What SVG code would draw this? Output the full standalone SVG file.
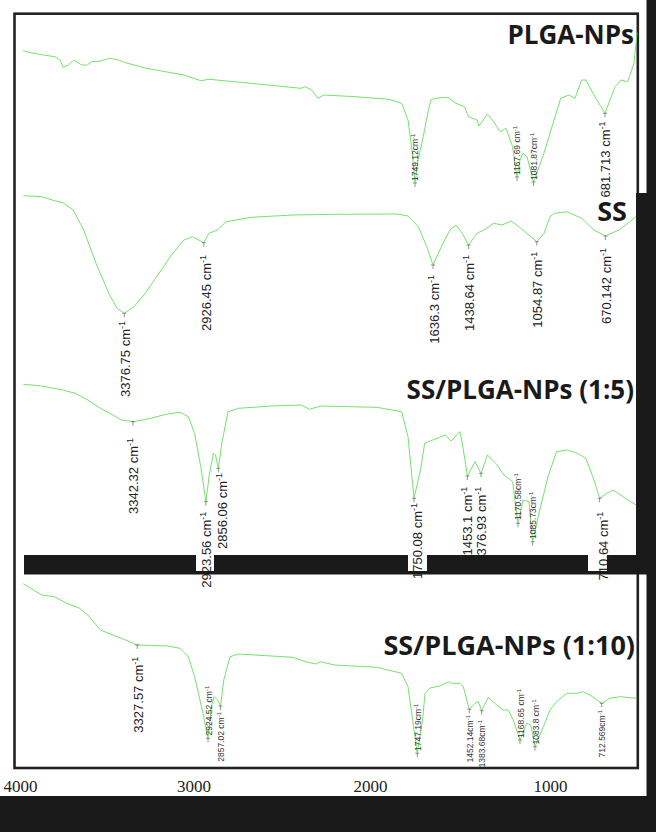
<svg xmlns="http://www.w3.org/2000/svg" width="656" height="832" viewBox="0 0 656 832">
<style>
.sp{fill:none;stroke:#66dd5c;stroke-width:0.9;stroke-linejoin:round;stroke-linecap:round}
.tk{stroke:#666;stroke-width:0.7;fill:none}
.lb{font-family:"Liberation Sans",Arial,sans-serif;font-size:13px;fill:#222}
.ls{font-family:"Liberation Sans",Arial,sans-serif;font-size:8.5px;fill:#333}
.ttl{font-family:"Open Sans","Noto Sans",sans-serif;font-weight:bold;fill:#1a1a1a;text-anchor:end}
.ax{font-family:"Liberation Serif","Times New Roman",serif;font-size:17px;fill:#222;text-anchor:middle}
.blk{fill:#1a1a1a}
</style>
<rect x="0" y="0" width="656" height="832" fill="#ffffff"/>
<g id="frame">
<rect x="14.5" y="13.7" width="623.3" height="754.3" fill="none" stroke="#222" stroke-width="2.6"/>
</g>
<g id="connectors">
<polyline id="c-plga" class="sp" points="23.5,50.7 33.3,53.3 43.3,55 55,56.7 60,60 63.3,67.3 68.3,65 74,60 81.7,65 87.3,65 91.7,61.7 100,61 110,58.3 118.3,60 125.5,62.7 146.4,68.3 184,75 200.8,80.7 209,79.3 251,83.3 301,88.3 305,86.7 311.7,90 318,98.3 324,95 355.6,96.7 389,99.3 401.7,103.3 408,120 412,150 415,183 418,160 422.6,140 428,112 431,100 435,98.3 447.7,97.3 456,103.3 464.4,106.7 468.6,116.7 477,120 479,126 487.4,114 493.7,121.7 500,131.7 506,128.3 512.6,146.7 517,177 520,160 523,153 527,156.7 533.5,182 538,170 544,153 552,126.7 560.7,98.3 569,95 575,98.3 581.6,80 585.8,80 594,95 605,113.3 610,100 615,86.7 621,80 627.6,81.7 634,63.3 637,33"/>
<polyline id="c-ss" class="sp" points="23.8,195.7 41.8,196.7 54.4,200.7 62.8,202.7 73.2,210 83.7,230 96,263.3 108.8,293.3 117,308.3 124.3,313.3 134,306.7 146.4,291.7 159,273.3 171.5,255 184,240 192.5,236.7 203.8,242.7 209,233.3 217.6,230 226,221.7 251,217.3 293,215 334.7,214.3 397.5,214 408,216 418.4,226.7 426.8,246.7 433,265 441.4,246.7 449.8,230 456,225 462.3,233.3 468.6,245 477,233.3 485.4,229.3 493.7,223.3 502,225 511.3,221 523,230 536.8,241.7 544,233.3 550,216.7 554.4,213.3 567,211.7 581.6,218.3 594,230 605.4,236 619,230 636,216.7"/>
<polyline id="c-15" class="sp" points="23.8,384.3 41.8,386 62.8,390 75.3,393.3 87.9,400 100.4,408.3 113,415 121.3,420 133,421.7 146.4,419.3 167.4,414 180,412.3 188.3,416.7 194.6,433.3 200.8,466.7 205.9,501.7 209,476.7 213.4,453.3 215.5,455 218.4,468.3 221.8,443.3 228,411.7 238.5,408.3 272,406 301,405 309.6,409.3 316,407.3 322,406 376.6,407.3 401.7,411.7 408,436.7 414,498.3 420.5,470 424.7,443.3 437,438.3 445.6,435 451,441 460,431.7 462.3,443.3 467.4,476 475,461.7 481,473.3 487.4,455 495.8,463.3 504,475 512.6,481.7 518,523.3 523,500 529,501.7 532.6,541.7 539.7,510 548,476.7 556.5,451.7 567,450 577.4,453.3 585.8,458.3 594,480 599.6,498.3 606.7,493.3 613,490 625.5,498.3 636,505"/>
<polyline id="c-110" class="sp" points="23.8,584 33.5,590 41.8,595 54.4,596.7 67,603.3 79.5,608.3 87.9,615 100.4,630 113,635 125.5,640 137.2,645 167.4,646 180,648.3 188.3,656.7 194.6,676.7 203,713.3 208,738.3 211.3,706.7 214.2,696.7 217.6,700 220.5,706 223.8,680 230,656.7 238.5,654 293,657.3 305.4,661.7 316,664 320,661.7 334.7,665 376.6,667.3 401.7,673.3 408,686.7 417.3,753.3 422.6,720 425,693.3 430,688 440,686 448.3,681.7 451.7,683.3 460,683.3 463.3,686.7 469.3,709.3 475,703.3 478.3,701.7 481.7,710.7 488.3,697.3 496.7,705 503.3,710 508.3,710 513.3,720 520,740 526.7,723.3 530.7,725 535,746.7 543.3,726.7 550,710 556.7,701.7 566.7,693.3 576.7,693.3 582.7,691.7 590,695 601.7,703.3 610,698.3 620,696.7 636,698.3"/>
</g>
<g id="ticks" class="tk">
<path d="M413,183h4M415,183v4 M515,177h4M517,177v4 M531.5,182h4M533.5,182v4 M603,113.3h4M605,113.3v4"/>
<path d="M122.3,313.3h4M124.3,313.3v4 M201.8,242.7h4M203.8,242.7v4 M431,265h4M433,265v4 M466.6,245h4M468.6,245v4 M534.8,241.7h4M536.8,241.7v4 M603.4,236h4M605.4,236v4"/>
<path d="M131,421.7h4M133,421.7v4 M203.9,501.7h4M205.9,501.7v4 M216.4,468.3h4M218.4,468.3v4 M412,498.3h4M414,498.3v4 M465.4,476h4M467.4,476v4 M479,473.3h4M481,473.3v4 M516,523.3h4M518,523.3v4 M530.6,541.7h4M532.6,541.7v4 M597.6,498.3h4M599.6,498.3v4"/>
<path d="M135.2,645h4M137.2,645v4 M206,738.3h4M208,738.3v4 M218.5,706h4M220.5,706v4 M415.3,753.3h4M417.3,753.3v4 M467.3,709.3h4M469.3,709.3v4 M479.7,710.7h4M481.7,710.7v4 M518,740h4M520,740v4 M533,746.7h4M535,746.7v4 M599.7,703.3h4M601.7,703.3v4"/>
</g>
<g id="node-plga">
<text class="ttl" x="634" y="44" font-size="26">PLGA-NPs</text>
<text class="ls" transform="translate(418,181) rotate(-90)">1749.12cm<tspan font-size="6" dy="-3">-1</tspan></text>
<text class="ls" transform="translate(520,175) rotate(-90)">1167.69 cm<tspan font-size="6" dy="-3">-1</tspan></text>
<text class="ls" transform="translate(536.5,180) rotate(-90)">1081.87cm<tspan font-size="6" dy="-3">-1</tspan></text>
<text class="lb" text-anchor="end" transform="translate(610,121.5) rotate(-90)">681.713 cm<tspan font-size="9" dy="-5">-1</tspan></text>
</g>
<g id="node-ss">
<text class="ttl" x="627" y="221" font-size="27">SS</text>
<text class="lb" text-anchor="end" transform="translate(129.5,321) rotate(-90)">3376.75 cm<tspan font-size="9" dy="-5">-1</tspan></text>
<text class="lb" text-anchor="end" transform="translate(210.5,255) rotate(-90)">2926.45 cm<tspan font-size="9" dy="-5">-1</tspan></text>
<text class="lb" text-anchor="end" transform="translate(439,275) rotate(-90)">1636.3 cm<tspan font-size="9" dy="-5">-1</tspan></text>
<text class="lb" text-anchor="end" transform="translate(474,255) rotate(-90)">1438.64 cm<tspan font-size="9" dy="-5">-1</tspan></text>
<text class="lb" text-anchor="end" transform="translate(542,251.7) rotate(-90)">1054.87 cm<tspan font-size="9" dy="-5">-1</tspan></text>
<text class="lb" text-anchor="end" transform="translate(610.5,248) rotate(-90)">670.142 cm<tspan font-size="9" dy="-5">-1</tspan></text>
</g>
<g id="node-15">
<text class="ttl" x="634" y="399" font-size="26">SS/PLGA-NPs (1:5)</text>
<text class="lb" text-anchor="end" transform="translate(138,438) rotate(-90)">3342.32 cm<tspan font-size="9" dy="-5">-1</tspan></text>
<text class="lb" text-anchor="end" transform="translate(211,511.7) rotate(-90)">2923.56 cm<tspan font-size="9" dy="-5">-1</tspan></text>
<text class="lb" text-anchor="end" transform="translate(227,473) rotate(-90)">2856.06 cm<tspan font-size="9" dy="-5">-1</tspan></text>
<text class="lb" text-anchor="end" transform="translate(422,503) rotate(-90)">1750.08 cm<tspan font-size="9" dy="-5">-1</tspan></text>
<text class="lb" text-anchor="end" transform="translate(471.5,486.7) rotate(-90)">1453.1 cm<tspan font-size="9" dy="-5">-1</tspan></text>
<text class="lb" text-anchor="end" transform="translate(486,486.7) rotate(-90)">1376.93 cm<tspan font-size="9" dy="-5">-1</tspan></text>
<text class="ls" transform="translate(521,520) rotate(-90)">1170.58cm<tspan font-size="6" dy="-3">-1</tspan></text>
<text class="ls" transform="translate(535.6,539) rotate(-90)">1085.73cm<tspan font-size="6" dy="-3">-1</tspan></text>
<text class="lb" text-anchor="end" transform="translate(607.5,511.7) rotate(-90)">710.64 cm<tspan font-size="9" dy="-5">-1</tspan></text>
</g>
<g id="node-110">
<text class="ttl" x="635" y="655" font-size="27">SS/PLGA-NPs (1:10)</text>
<text class="lb" text-anchor="end" transform="translate(143,656.7) rotate(-90)">3327.57 cm<tspan font-size="9" dy="-5">-1</tspan></text>
<text class="ls" transform="translate(211.5,735.5) rotate(-90)">2924.52 cm<tspan font-size="6" dy="-3">-1</tspan></text>
<text class="ls" text-anchor="end" transform="translate(224,712) rotate(-90)">2857.02 cm<tspan font-size="6" dy="-3">-1</tspan></text>
<text class="ls" transform="translate(420.5,751) rotate(-90)">1747.19cm<tspan font-size="6" dy="-3">-1</tspan></text>
<text class="ls" text-anchor="end" transform="translate(472.5,715) rotate(-90)">1452.14cm<tspan font-size="6" dy="-3">-1</tspan></text>
<text class="ls" text-anchor="end" transform="translate(485,720) rotate(-90)">1383.68cm<tspan font-size="6" dy="-3">-1</tspan></text>
<text class="ls" transform="translate(523.5,738) rotate(-90)">1168.65 cm<tspan font-size="6" dy="-3">-1</tspan></text>
<text class="ls" transform="translate(538.5,744.5) rotate(-90)">1083.8 cm<tspan font-size="6" dy="-3">-1</tspan></text>
<text class="ls" text-anchor="end" transform="translate(604.5,710) rotate(-90)">712.569cm<tspan font-size="6" dy="-3">-1</tspan></text>
</g>
<g id="masks">
<rect class="blk" x="646.5" y="0" width="9.5" height="832"/>
<rect class="blk" x="636" y="193" width="20" height="380.5"/>
<rect class="blk" x="24" y="555" width="172" height="19.5"/>
<rect class="blk" x="214" y="555" width="194" height="19.5"/>
<rect class="blk" x="427" y="555" width="161" height="19.5"/>
<rect class="blk" x="607" y="555" width="49" height="19.5"/>
<rect class="blk" x="196" y="571" width="18" height="3.5"/>
<rect class="blk" x="408" y="571" width="19" height="3.5"/>
<rect class="blk" x="588" y="571" width="19" height="3.5"/>
<rect class="blk" x="0" y="796" width="656" height="36"/>
</g>
<g id="axis">
<text class="ax" x="20.5" y="792">4000</text>
<text class="ax" x="194" y="792">3000</text>
<text class="ax" x="370.5" y="792">2000</text>
<text class="ax" x="550.5" y="792">1000</text>
</g>
</svg>
